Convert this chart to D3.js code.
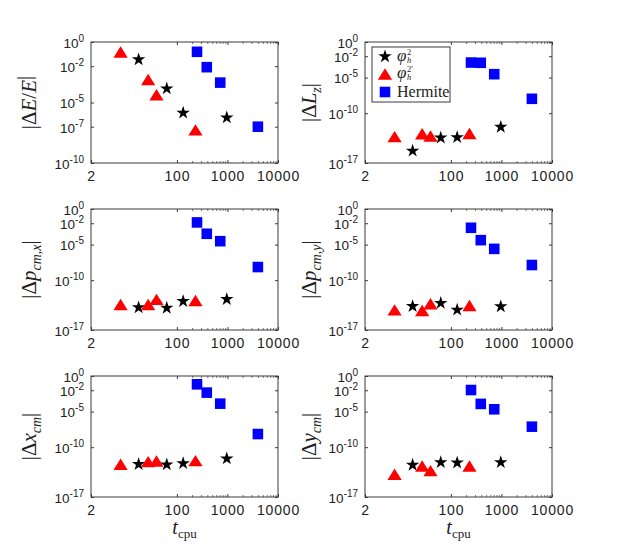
<!DOCTYPE html>
<html>
<head>
<meta charset="utf-8">
<script src="https://cdn.jsdelivr.net/npm/d3@7/dist/d3.min.js"></script>
<style>
  body { margin: 0; background: #fff; }
  svg { display: block; }
</style>
</head>
<body>
<svg id="canvas" width="623" height="559"></svg>
<script>
// cpu times (x) of each method
var tStar = [17.5, 63, 133, 970];
var tTri = [7.7, 27, 39.5, 233];
var tHerm = [250, 390, 720, 4000];

// |dE/E|
var dEStar = [3.6e-2, 1.4e-4, 1.4e-6, 5.6e-7];
var dETri = [1.5e-1, 7.9e-4, 4.4e-5, 5.5e-8];
var dEHerm = [1.55e-1, 8.3e-3, 4.4e-4, 1.0e-7];
// |dLz|
var dLStar = [5e-16, 3.5e-14, 4e-14, 1.15e-12];
var dLTri = [5e-14, 1.26e-13, 6.3e-14, 1.4e-13];
var dLHerm = [1.3e-3, 1.2e-3, 3e-5, 1.05e-8];
// |dp_cm,x|
var dPxStar = [1.45e-14, 1.26e-14, 1.1e-13, 2.1e-13];
var dPxTri = [3.8e-14, 3.8e-14, 2e-13, 1.4e-13];
var dPxHerm = [1.3e-2, 3.3e-4, 3e-5, 7e-9];
// |dp_cm,y|
var dPyStar = [2.2e-14, 5.9e-14, 6.8e-15, 2e-14];
var dPyTri = [6.8e-15, 5.4e-15, 4.8e-14, 2.75e-14];
var dPyHerm = [2.3e-3, 4.2e-5, 2.5e-6, 1.35e-8];
// |dx_cm|
var dXStar = [4e-13, 3.5e-13, 5.4e-13, 2.5e-12];
var dXTri = [4e-13, 9.3e-13, 1.15e-12, 1.3e-12];
var dXHerm = [6.8e-2, 4.6e-3, 1.3e-4, 7e-9];
// |dy_cm|
var dYStar = [3.2e-13, 7.4e-13, 6.6e-13, 7.4e-13];
var dYTri = [1.6e-14, 2.3e-13, 5e-14, 2.3e-13];
var dYHerm = [1.07e-2, 1.2e-4, 2.1e-5, 7.6e-8];

var xTicks = [2, 100, 1000, 10000];
var xMinor = [200, 300, 400, 500, 600, 700, 800, 900, 2000, 3000, 4000, 5000, 6000, 7000, 8000, 9000];
var yTicksE = [1, 1e-2, 1e-5, 1e-7, 1e-10];
var yTicksAll = [1, 1e-2, 1e-5, 1e-10, 1e-17];

var legendNames = ["2", "2\u2032", "Hermite"];

// label pieces: [text, italic?, sub?]
var panels = [
  {col: 0, row: 0, yMin: 1e-10, ticks: yTicksE, s: dEStar, t: dETri, h: dEHerm,
   label: [["|\u0394", 0, 0], ["E", 1, 0], ["/", 0, 0], ["E", 1, 0], ["|", 0, 0]]},
  {col: 1, row: 0, yMin: 1e-17, ticks: yTicksAll, s: dLStar, t: dLTri, h: dLHerm, legend: true,
   label: [["|\u0394", 0, 0], ["L", 1, 0], ["z", 1, 1], ["|", 0, 0]]},
  {col: 0, row: 1, yMin: 1e-17, ticks: yTicksAll, s: dPxStar, t: dPxTri, h: dPxHerm,
   label: [["|\u0394", 0, 0], ["p", 1, 0], ["cm,x", 1, 1], ["|", 0, 0]]},
  {col: 1, row: 1, yMin: 1e-17, ticks: yTicksAll, s: dPyStar, t: dPyTri, h: dPyHerm,
   label: [["|\u0394", 0, 0], ["p", 1, 0], ["cm,y", 1, 1], ["|", 0, 0]]},
  {col: 0, row: 2, yMin: 1e-17, ticks: yTicksAll, s: dXStar, t: dXTri, h: dXHerm, xlab: true,
   label: [["|\u0394", 0, 0], ["x", 1, 0], ["cm", 1, 1], ["|", 0, 0]]},
  {col: 1, row: 2, yMin: 1e-17, ticks: yTicksAll, s: dYStar, t: dYTri, h: dYHerm, xlab: true,
   label: [["|\u0394", 0, 0], ["y", 1, 0], ["cm", 1, 1], ["|", 0, 0]]}
];

var colX = [91, 365], rowY = [42, 209, 376];
var W = 187, H = 121;
var axisCol = "#3a3a3a";
var serif = "'Liberation Serif', 'DejaVu Serif', serif";
var sans = "'Liberation Sans', Arial, sans-serif";

// MATLAB-like wide triangle, centred on its bounding box
var triType = {
  draw: function(ctx, size) {
    var w = Math.sqrt(size) * 1.25, h = Math.sqrt(size);
    ctx.moveTo(0, -h / 2);
    ctx.lineTo(w / 2, h / 2);
    ctx.lineTo(-w / 2, h / 2);
    ctx.closePath();
  }
};
var starPath = d3.symbol().type(d3.symbolStar).size(56)();
var triPath = d3.symbol().type(triType).size(130)();
var sqPath = d3.symbol().type(d3.symbolSquare).size(112)();

var svg = d3.select("#canvas");

function expTick(sel) {
  sel.each(function(d) {
    var e = Math.round(Math.log10(d));
    var t = d3.select(this).text(null);
    t.append("tspan").text("10");
    t.append("tspan").attr("dy", -6).style("font-size", "10px").text(e);
  });
}

panels.forEach(function(p) {
  var x0 = colX[p.col], y0 = rowY[p.row];
  var g = svg.append("g").attr("transform", "translate(" + x0 + "," + y0 + ")");

  var x = d3.scaleLog().domain([2, 10000]).range([0, W]);
  var y = d3.scaleLog().domain([p.yMin, 1]).range([H, 0]);

  // box
  g.append("rect").attr("width", W).attr("height", H)
    .attr("fill", "none").attr("stroke", axisCol).attr("stroke-width", 1);

  // y axis left
  var ya = g.append("g").call(d3.axisLeft(y).tickValues(p.ticks).tickSize(-3).tickPadding(7));
  ya.select(".domain").remove();
  ya.selectAll("line").attr("stroke", axisCol);
  ya.selectAll("text").attr("font-family", sans).attr("font-size", 13.5)
    .attr("fill", "#222").attr("dy", "0.4em").call(expTick);
  // y ticks right
  var yr = g.append("g").attr("transform", "translate(" + W + ",0)")
    .call(d3.axisRight(y).tickValues(p.ticks).tickSize(-3).tickFormat(""));
  yr.select(".domain").remove();
  yr.selectAll("line").attr("stroke", axisCol);

  // x axis bottom
  var xa = g.append("g").attr("transform", "translate(0," + H + ")")
    .call(d3.axisBottom(x).tickValues(xTicks).tickSize(-3).tickPadding(8).tickFormat(d3.format("d")));
  xa.select(".domain").remove();
  xa.selectAll("line").attr("stroke", axisCol);
  xa.selectAll("text").attr("font-family", sans).attr("font-size", 14)
    .attr("letter-spacing", "0.8px").attr("fill", "#222");
  var xm = g.append("g").attr("transform", "translate(0," + H + ")")
    .call(d3.axisBottom(x).tickValues(xMinor).tickSize(-2).tickFormat(""));
  xm.select(".domain").remove();
  xm.selectAll("line").attr("stroke", axisCol).attr("stroke-width", 0.7);
  // x ticks top
  var xt = g.append("g").call(d3.axisTop(x).tickValues(xTicks.slice(1)).tickSize(-3).tickFormat(""));
  xt.select(".domain").remove();
  xt.selectAll("line").attr("stroke", axisCol);
  var xtm = g.append("g").call(d3.axisTop(x).tickValues(xMinor).tickSize(-2).tickFormat(""));
  xtm.select(".domain").remove();
  xtm.selectAll("line").attr("stroke", axisCol).attr("stroke-width", 0.7);

  // markers
  g.append("g").selectAll("path").data(tStar).join("path")
    .attr("d", starPath).attr("fill", "#000")
    .attr("transform", function(d, i) { return "translate(" + x(d) + "," + y(p.s[i]) + ")"; });
  g.append("g").selectAll("path").data(tTri).join("path")
    .attr("d", triPath).attr("fill", "#ff0000")
    .attr("transform", function(d, i) { return "translate(" + x(d) + "," + y(p.t[i]) + ")"; });
  g.append("g").selectAll("path").data(tHerm).join("path")
    .attr("d", sqPath).attr("fill", "#0000ff")
    .attr("transform", function(d, i) { return "translate(" + x(d) + "," + y(p.h[i]) + ")"; });

  // y label
  var lx = p.col === 0 ? -55 : -49;
  var lab = g.append("text")
    .attr("transform", "translate(" + lx + "," + (H / 2) + ") rotate(-90)")
    .attr("text-anchor", "middle").attr("font-family", serif).attr("font-size", 21)
    .attr("fill", "#222").attr("dy", "0.35em");
  p.label.forEach(function(pc) {
    var ts = lab.append("tspan").text(pc[0])
      .attr("font-style", pc[1] ? "italic" : "normal");
    if (pc[2]) ts.attr("font-size", 14).attr("dy", 5);
    else ts.attr("dy", lab.selectAll("tspan").size() > 1 && pc[0] === "|" ? -5 : 0);
  });

  // x label
  if (p.xlab) {
    var xl = g.append("text").attr("x", W / 2).attr("y", H + 37)
      .attr("text-anchor", "middle").attr("font-family", serif).attr("font-size", 20).attr("fill", "#222");
    xl.append("tspan").attr("font-style", "italic").text("t");
    xl.append("tspan").attr("font-size", 13).attr("dy", 4).text("cpu");
  }

  // legend
  if (p.legend) {
    var lg = g.append("g").attr("transform", "translate(7,5)");
    lg.append("rect").attr("width", 78).attr("height", 55)
      .attr("fill", "#fff").attr("stroke", axisCol).attr("stroke-width", 1);
    var rowsY = [9.5, 27, 45];
    var paths = [[starPath, "#000"], [triPath, "#ff0000"], [sqPath, "#0000ff"]];
    paths.forEach(function(m, i) {
      lg.append("path").attr("d", m[0]).attr("fill", m[1])
        .attr("transform", "translate(13," + rowsY[i] + ")");
    });
    [0, 1].forEach(function(i) {
      var by = rowsY[i] + 4;
      lg.append("text").attr("x", 25).attr("y", by).attr("font-family", serif)
        .attr("font-style", "italic").attr("font-size", 17).attr("fill", "#222").text("\u03c6");
      lg.append("text").attr("x", 35).attr("y", by - 6).attr("font-family", serif)
        .attr("font-size", 8.5).attr("fill", "#222").text(legendNames[i]);
      lg.append("text").attr("x", 35).attr("y", by + 2).attr("font-family", serif)
        .attr("font-style", "italic").attr("font-size", 8.5).attr("fill", "#222").text("h");
    });
    lg.append("text").attr("x", 25).attr("y", rowsY[2] + 5).attr("font-family", serif)
      .attr("font-size", 16).attr("fill", "#222").text(legendNames[2]);
  }
});
</script>
</body>
</html>
